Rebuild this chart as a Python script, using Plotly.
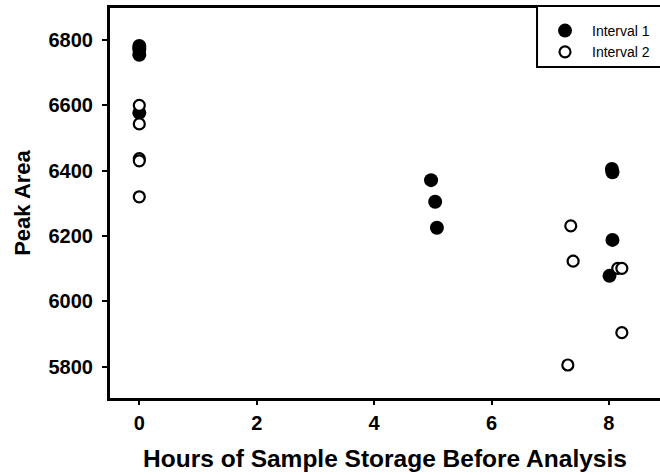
import plotly.graph_objects as go

# Interval 1 (filled circles)
hours_i1 = [0, 0, 0, 0, 4.97, 5.04, 5.07, 8.05, 8.06, 8.06, 8.01]
area_i1 = [6782, 6772, 6755, 6577, 6371, 6305, 6225, 6405, 6395, 6188, 6078]

# Interval 2 (open circles)
hours_i2 = [0, 0, 0, 0, 0, 7.35, 7.39, 8.15, 8.22, 8.22, 7.30]
area_i2 = [6600, 6543, 6437, 6430, 6320, 6231, 6123, 6101, 6101, 5904, 5805]

x_ticks = [0, 2, 4, 6, 8]
y_ticks = [5800, 6000, 6200, 6400, 6600, 6800]

FONT = "Liberation Sans, Arial, sans-serif"

fig = go.Figure()
fig.add_trace(go.Scatter(
    x=hours_i1, y=area_i1, mode="markers", name="Interval 1",
    marker=dict(symbol="circle", size=14, color="black", line=dict(width=0)),
))
fig.add_trace(go.Scatter(
    x=hours_i2, y=area_i2, mode="markers", name="Interval 2",
    marker=dict(symbol="circle", size=11, color="white", line=dict(width=2.2, color="black")),
))

# legend frame
fig.add_shape(type="rect", xref="paper", yref="paper",
              x0=0.7764, x1=1.03, y0=0.8487, y1=1.005,
              line=dict(color="black", width=2), fillcolor="white", layer="above")

fig.update_layout(
    width=660, height=475,
    margin=dict(l=110, r=0, t=8, b=77),
    plot_bgcolor="white", paper_bgcolor="white",
    font=dict(family=FONT, color="black"),
    showlegend=True,
    legend=dict(x=0.7782, y=0.982, xanchor="left", yanchor="top",
                bgcolor="rgba(0,0,0,0)", borderwidth=0, itemwidth=44,
                font=dict(family=FONT, size=14, color="black"),
                itemsizing="trace", tracegroupgap=0),
    xaxis=dict(range=[-0.499, 8.870], tickvals=x_ticks,
               showline=True, linewidth=3, linecolor="black", mirror=True,
               ticks="outside", ticklen=4, tickwidth=1.5, tickcolor="black",
               showgrid=False, zeroline=False, ticklabelstandoff=1,
               tickfont=dict(family=FONT, size=20, weight="bold"),
               title=dict(text="Hours of Sample Storage Before Analysis",
                          font=dict(family=FONT, size=24.5, weight="bold"), standoff=17)),
    yaxis=dict(range=[5704, 6898], tickvals=y_ticks,
               showline=True, linewidth=3, linecolor="black", mirror=False,
               ticks="outside", ticklen=5, tickwidth=1.5, tickcolor="black",
               showgrid=False, zeroline=False, ticklabelstandoff=5,
               tickfont=dict(family=FONT, size=20, weight="bold"),
               title=dict(text="Peak Area",
                          font=dict(family=FONT, size=22, weight="bold"), standoff=12)),
)

fig.write_html("out.html")
